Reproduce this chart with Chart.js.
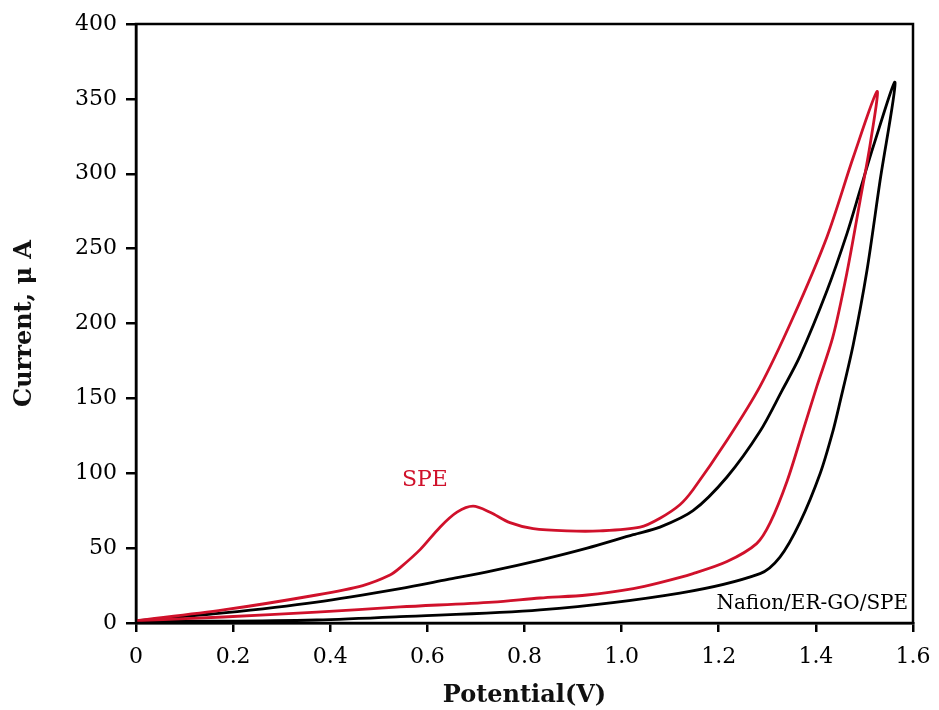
<!DOCTYPE html>
<html lang="en">
<head>
    <meta charset="UTF-8">
    <title>Cyclic voltammetry</title>
    <script src="https://cdn.jsdelivr.net/npm/chart.js"></script>
    <style>
        body { margin: 0; background: #ffffff; }
        #wrap { width: 939px; height: 710px; }
    </style>
</head>
<body>
    <div id="wrap"><canvas id="cv"></canvas></div>

    <script>
        // SPE loop: forward branch (with oxidation peak) then reverse branch
        const speV = [0, 0.18, 0.372, 0.467, 0.523, 0.544, 0.585, 0.626, 0.661, 0.694, 0.729, 0.77, 0.818, 0.888, 0.955, 1.038, 1.079, 1.12, 1.147, 1.217, 1.285, 1.353, 1.423, 1.477, 1.526,
                      1.512, 1.491, 1.464, 1.435, 1.402, 1.374, 1.341, 1.306, 1.278, 1.217, 1.147, 1.079, 1.024, 0.929, 0.832, 0.735, 0.544, 0.372, 0.18, 0];
        const speI = [1.5, 8.7, 18.7, 25, 32, 37, 49, 64, 74, 78, 74, 67, 63, 61.5, 61.5, 64, 70, 79, 89, 122, 158, 204, 258, 311, 355,
                      320, 282, 234, 191, 158, 129, 95, 67, 53, 41, 33, 27, 23, 18.7, 16.7, 14, 10.7, 7.3, 4, 1.5];

        // Nafion/ER-GO/SPE loop
        const ergoV = [0, 0.18, 0.372, 0.544, 0.64, 0.735, 0.832, 0.929, 1.024, 1.079, 1.147, 1.217, 1.285, 1.33, 1.367, 1.423, 1.464, 1.491, 1.518, 1.563,
                       1.532, 1.505, 1.477, 1.45, 1.435, 1.409, 1.367, 1.326, 1.285, 1.12, 0.832, 0.544, 0.372, 0.18, 0];
        const ergoI = [1.5, 6.7, 14, 23, 29, 35, 42, 50, 59, 64, 75, 97.5, 128, 155, 178, 222, 260, 289, 318, 361,
                       295, 235, 186, 148, 128, 100, 67, 44, 33, 20, 8.7, 4.2, 2, 1.2, 1.5];

        const xTicks = [0, 0.2, 0.4, 0.6, 0.8, 1.0, 1.2, 1.4, 1.6];
        const yTicks = [0, 50, 100, 150, 200, 250, 300, 350, 400];

        const serif = "'DejaVu Serif', serif";
        const red = '#d0112b';

        function toPoints(xs, ys) {
            return xs.map((x, i) => ({ x: x, y: ys[i] }));
        }

        // frame + text labels placed in data coordinates
        const extras = {
            id: 'extras',
            afterDraw(chart) {
                const ctx = chart.ctx;
                const a = chart.chartArea;
                const sx = chart.scales.x, sy = chart.scales.y;
                ctx.save();
                ctx.strokeStyle = '#000';
                ctx.lineWidth = 2.5;
                ctx.strokeRect(a.left, a.top, a.right - a.left, a.bottom - a.top);

                ctx.fillStyle = red;
                ctx.font = "22px " + serif;
                ctx.textAlign = 'center';
                ctx.textBaseline = 'middle';
                ctx.fillText('SPE', sx.getPixelForValue(0.595), sy.getPixelForValue(95));

                ctx.fillStyle = '#000';
                ctx.font = "20px " + serif;
                ctx.textAlign = 'right';
                ctx.fillText('Nafion/ER-GO/SPE', sx.getPixelForValue(1.59), sy.getPixelForValue(13));
                ctx.restore();
            }
        };

        new Chart(document.getElementById('cv').getContext('2d'), {
            type: 'scatter',
            data: {
                datasets: [
                    {
                        label: 'SPE',
                        data: toPoints(speV, speI),
                        showLine: true,
                        borderColor: red,
                        borderWidth: 2.8,
                        pointRadius: 0,
                        tension: 0.3
                    },
                    {
                        label: 'Nafion/ER-GO/SPE',
                        data: toPoints(ergoV, ergoI),
                        showLine: true,
                        borderColor: '#000000',
                        borderWidth: 2.8,
                        pointRadius: 0,
                        tension: 0.3
                    }
                ]
            },
            options: {
                responsive: true,
                maintainAspectRatio: false,
                animation: false,
                layout: { padding: { top: 24, right: 26, left: 0, bottom: 0 } },
                plugins: {
                    legend: { display: false },
                    tooltip: { enabled: false }
                },
                scales: {
                    x: {
                        type: 'linear',
                        min: 0,
                        max: 1.6,
                        afterBuildTicks: s => { s.ticks = xTicks.map(v => ({ value: v })); },
                        afterFit: s => { s.height = 87; s.paddingRight = 0; s.paddingLeft = 0; },
                        border: { display: true, color: '#000', width: 2.5 },
                        grid: { drawOnChartArea: false, drawTicks: true, tickLength: 9, color: '#000', lineWidth: 2.5 },
                        ticks: {
                            color: '#000',
                            font: { family: serif, size: 22 },
                            padding: 12,
                            maxRotation: 0,
                            callback: v => v === 0 ? '0' : v.toFixed(1)
                        },
                        title: {
                            display: true,
                            text: 'Potential(V)',
                            color: '#111',
                            font: { family: serif, size: 24, weight: 'bold' },
                            padding: { top: 0, bottom: 0 }
                        }
                    },
                    y: {
                        type: 'linear',
                        min: 0,
                        max: 400,
                        afterBuildTicks: s => { s.ticks = yTicks.map(v => ({ value: v })); },
                        afterFit: s => { s.width = 136; },
                        border: { display: true, color: '#000', width: 2.5 },
                        grid: { drawOnChartArea: false, drawTicks: true, tickLength: 10, color: '#000', lineWidth: 2.5 },
                        ticks: {
                            color: '#000',
                            font: { family: serif, size: 22 },
                            padding: 9
                        },
                        title: {
                            display: true,
                            text: 'Current, μ A',
                            color: '#111',
                            font: { family: serif, size: 24, weight: 'bold' },
                            padding: { top: 10, bottom: 0 }
                        }
                    }
                }
            },
            plugins: [extras]
        });
    </script>
</body>
</html>
